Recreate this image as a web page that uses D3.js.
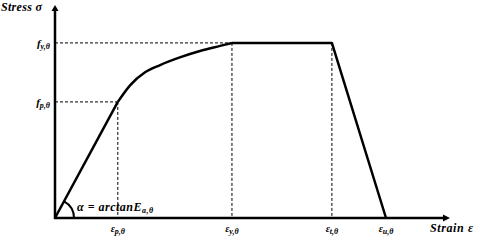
<!DOCTYPE html>
<html>
<head>
<meta charset="utf-8">
<script src="https://cdn.jsdelivr.net/npm/d3@7"></script>
<style>
  body { margin: 0; background: #fff; }
</style>
</head>
<body>
<svg id="chart"></svg>
<script>
// Key strain / stress levels (normalised units)
const strainKeys = [
    { name: "p", value: 15.9 },
    { name: "y", value: 44.8 },
    { name: "t", value: 70.1 },
    { name: "u", value: 83.8 }
];
const stressKeys = [
    { name: "y", value: 82.2 },
    { name: "p", value: 54.5 }
];
// Curve points (strain, stress)
const elasticPts = [[0, 0], [15.9, 54.5]];
const plasticPts = [[15.9, 54.5], [19, 62.3], [22.8, 68.4], [26.6, 71.8], [31.6, 75.4], [36.7, 78.4], [41.8, 80.8], [44.8, 82.2]];
const flatPts = [[44.8, 82.2], [70.1, 82.2], [83.8, 0]];

const width = 481;
const height = 244;
const origin = { x: 55, y: 218 };
const serif = "'Times New Roman', 'Liberation Serif', 'DejaVu Serif', serif";

const svg = d3.select("#chart").attr("width", width).attr("height", height);

const xScale = d3.scaleLinear().domain([0, 100]).range([origin.x, 450]);
const yScale = d3.scaleLinear().domain([0, 100]).range([origin.y, 5]);

function label(x, y, size, anchor) {
    return svg.append("text")
        .attr("x", x).attr("y", y)
        .attr("text-anchor", anchor || "start")
        .attr("font-family", serif)
        .attr("font-style", "italic")
        .attr("font-weight", "bold")
        .attr("font-size", size)
        .attr("fill", "#000");
}

// Dashed guide lines
stressKeys.forEach(k => {
    const xEnd = strainKeys.find(s => s.name === k.name).value;
    svg.append("line")
        .attr("x1", xScale(0)).attr("x2", xScale(xEnd))
        .attr("y1", yScale(k.value)).attr("y2", yScale(k.value))
        .attr("stroke", "#000").attr("stroke-width", 1)
        .attr("stroke-dasharray", "3,2");
});
strainKeys.slice(0, 3).forEach(k => {
    const top = k.name === "p" ? stressKeys[1].value : stressKeys[0].value;
    svg.append("line")
        .attr("x1", xScale(k.value)).attr("x2", xScale(k.value))
        .attr("y1", yScale(top)).attr("y2", yScale(0))
        .attr("stroke", "#000").attr("stroke-width", 1)
        .attr("stroke-dasharray", "3,2");
});

// Axes
svg.append("line")
    .attr("x1", xScale(0)).attr("x2", xScale(0))
    .attr("y1", yScale(0) + 1).attr("y2", yScale(100) + 4)
    .attr("stroke", "#000").attr("stroke-width", 2.5);
svg.append("line")
    .attr("x1", xScale(0) - 1).attr("x2", xScale(100) - 4)
    .attr("y1", yScale(0)).attr("y2", yScale(0))
    .attr("stroke", "#000").attr("stroke-width", 2.5);
// arrow heads
svg.append("path")
    .attr("d", `M${xScale(0) - 3.5},${yScale(100) + 6} L${xScale(0)},${yScale(100)} L${xScale(0) + 3.5},${yScale(100) + 6} Z`)
    .attr("fill", "#000");
svg.append("path")
    .attr("d", `M${xScale(100) - 7},${yScale(0) - 3.5} L${xScale(100)},${yScale(0)} L${xScale(100) - 7},${yScale(0) + 3.5} Z`)
    .attr("fill", "#000");

// Stress-strain curve
const line = d3.line().x(d => xScale(d[0])).y(d => yScale(d[1]));
const curve = d3.line().x(d => xScale(d[0])).y(d => yScale(d[1])).curve(d3.curveMonotoneX);
[[elasticPts, line], [plasticPts, curve], [flatPts, line]].forEach(([pts, gen]) => {
    svg.append("path")
        .datum(pts)
        .attr("d", gen)
        .attr("fill", "none")
        .attr("stroke", "#000")
        .attr("stroke-width", 2.5)
        .attr("stroke-linejoin", "round");
});

// Angle arc
const slopeAngle = Math.atan2(yScale(0) - yScale(elasticPts[1][1]), xScale(elasticPts[1][0]) - xScale(0));
const r = 19;
svg.append("path")
    .attr("d", `M${xScale(0) + r},${yScale(0)} A${r},${r} 0 0 0 ${xScale(0) + r * Math.cos(slopeAngle)},${yScale(0) - r * Math.sin(slopeAngle)}`)
    .attr("fill", "none").attr("stroke", "#000").attr("stroke-width", 2);

// Labels
label(1, 11, 12).attr("letter-spacing", 0.3).text("Stress σ");
label(430, 232, 12).attr("letter-spacing", 0.6).text("Strain ε");

stressKeys.forEach(k => {
    const t = label(50, yScale(k.value) + 4, 11, "end");
    t.append("tspan").text("f");
    t.append("tspan").attr("dy", 2).attr("font-size", 8).text(k.name + ",θ");
});

strainKeys.forEach(k => {
    const t = label(xScale(k.value), 232, 10, "middle");
    t.append("tspan").text("ε");
    t.append("tspan").attr("dy", 2).attr("font-size", 8).text(k.name + ",θ");
});

const alpha = label(77, 211, 12).attr("letter-spacing", 0.5);
alpha.append("tspan").text("α = arctanE");
alpha.append("tspan").attr("dy", 2).attr("font-size", 8).text("a,θ");
</script>
</body>
</html>
